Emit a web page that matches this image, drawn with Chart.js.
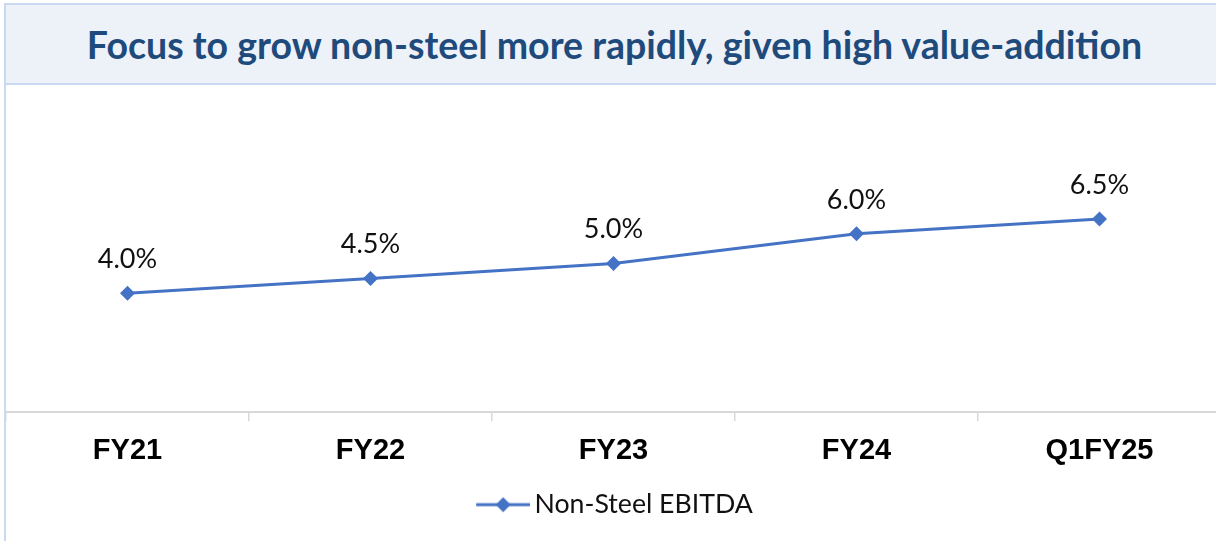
<!DOCTYPE html>
<html>
<head>
<meta charset="utf-8">
<script src="https://cdn.jsdelivr.net/npm/chart.js@4"></script>
<style>
  html, body { margin: 0; padding: 0; background: #fff; overflow: hidden; width: 1216px; height: 541px; }
  #frame {
    position: absolute; left: 4px; top: 3px; width: 1217px; height: 560px;
    border-left: 2px solid #c9daf0; border-top: 2px solid #c9daf0;
  }
  #title {
    height: 78px; background: #edf2f8; border-bottom: 2px solid #c9daf0;
    font-family: Lato, sans-serif; font-weight: bold; font-size: 37.5px; color: #1f4a7c;
    text-align: center; line-height: 80px;
  }
  #wrap { position: absolute; left: 0px; top: 80px; width: 1215px; height: 456px; }
</style>
</head>
<body>
<div id="frame">
  <div id="title">Focus to grow non-steel more rapidly, given high value-addition</div>
  <div id="wrap"><canvas id="chart" width="1215" height="456"></canvas></div>
</div>
<script>
const categories = ['FY21', 'FY22', 'FY23', 'FY24', 'Q1FY25'];
const nonSteelEbitda = [4.0, 4.5, 5.0, 6.0, 6.5];
const valueLabels = ['4.0%', '4.5%', '5.0%', '6.0%', '6.5%'];
const seriesName = 'Non-Steel EBITDA';

const lineColor = '#4472c4';

// legend symbol: short line with a diamond in the middle (left pad keeps text close)
function legendSymbol() {
    const c = document.createElement('canvas');
    c.width = 65; c.height = 18;
    const ctx = c.getContext('2d');
    ctx.strokeStyle = lineColor;
    ctx.lineWidth = 3;
    ctx.beginPath();
    ctx.moveTo(11, 9); ctx.lineTo(65, 9);
    ctx.stroke();
    ctx.fillStyle = lineColor;
    ctx.beginPath();
    ctx.moveTo(38, 1.5); ctx.lineTo(45.5, 9); ctx.lineTo(38, 16.5); ctx.lineTo(30.5, 9);
    ctx.closePath();
    ctx.fill();
    return c;
}

// draw the value labels above each point
const valueLabelPlugin = {
    id: 'valueLabels',
    afterDatasetsDraw(chart) {
        const ctx = chart.ctx;
        const meta = chart.getDatasetMeta(0);
        ctx.save();
        ctx.font = '27px Lato, sans-serif';
        ctx.fillStyle = '#111';
        ctx.textAlign = 'center';
        ctx.textBaseline = 'middle';
        meta.data.forEach((pt, i) => {
            ctx.fillText(valueLabels[i], pt.x, pt.y - 34);
        });
        ctx.restore();
    }
};

const ctx = document.getElementById('chart').getContext('2d');
new Chart(ctx, {
    type: 'line',
    data: {
        labels: categories,
        datasets: [{
            label: seriesName,
            data: nonSteelEbitda,
            borderColor: lineColor,
            backgroundColor: lineColor,
            borderWidth: 3,
            pointStyle: 'rectRot',
            pointRadius: 7.5,
            pointHoverRadius: 7.5,
            pointBackgroundColor: lineColor,
            pointBorderWidth: 0,
            tension: 0
        }]
    },
    options: {
        responsive: false,
        devicePixelRatio: 1,
        animation: false,
        layout: { autoPadding: false, padding: { top: 18, left: 0, right: 0, bottom: 13 } },
        plugins: {
            title: { display: false },
            tooltip: { enabled: false },
            legend: {
                position: 'bottom',
                labels: {
                    usePointStyle: true,
                    pointStyle: legendSymbol(),
                    pointStyleWidth: 47,
                    boxHeight: 18,
                    padding: 10,
                    color: '#111',
                    font: { family: 'Lato, sans-serif', size: 26.7 }
                }
            }
        },
        scales: {
            x: {
                offset: true,
                grid: {
                    offset: true,
                    drawOnChartArea: false,
                    drawTicks: true,
                    tickLength: 9,
                    color: '#d9d9d9',
                    lineWidth: 1.5
                },
                border: { color: '#d9d9d9', width: 2 },
                ticks: {
                    color: '#000',
                    padding: 12,
                    font: { family: '"Liberation Sans", Arial, sans-serif', size: 29, weight: 'bold' }
                },
                afterFit: (scale) => { scale.height = 69; }
            },
            y: {
                display: false,
                min: 0,
                max: 10.4
            }
        }
    },
    plugins: [valueLabelPlugin]
});
</script>
</body>
</html>
